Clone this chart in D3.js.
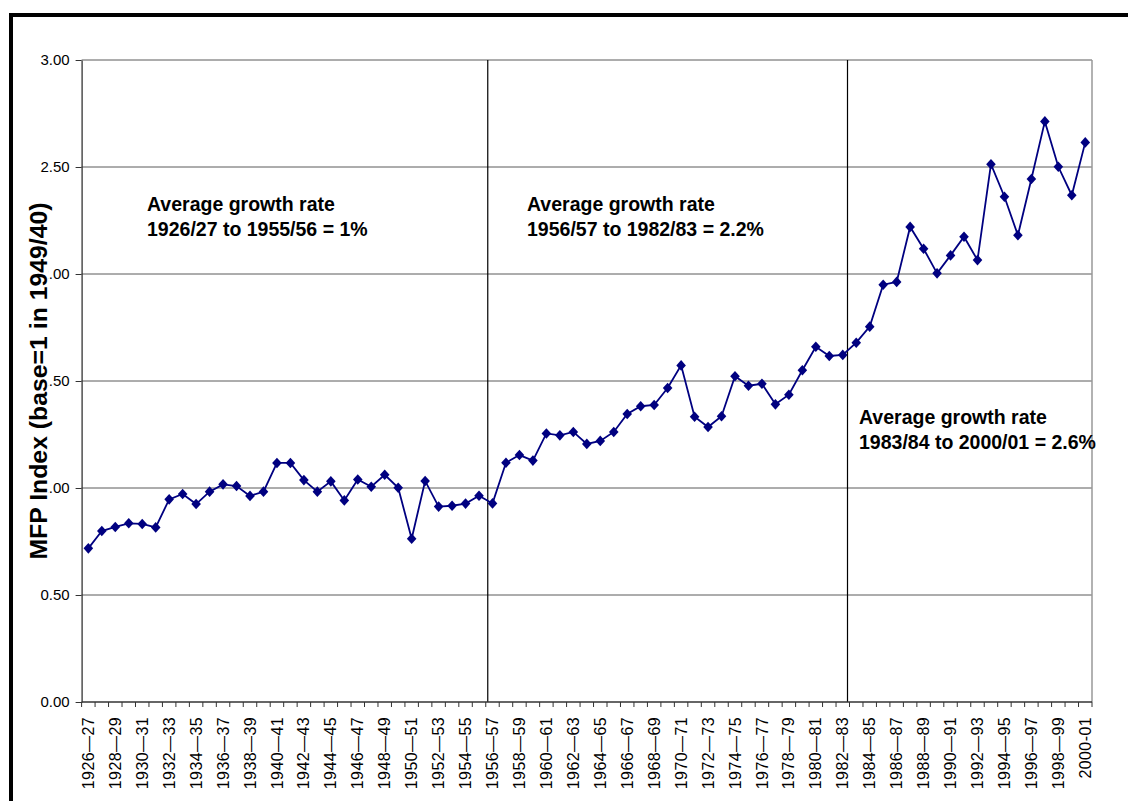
<!DOCTYPE html>
<html>
<head>
<meta charset="utf-8">
<script src="https://cdn.jsdelivr.net/npm/d3@7"></script>
<style>
  html, body { margin: 0; padding: 0; background: #fff; }
  svg { display: block; font-family: "Liberation Sans", Arial, Helvetica, sans-serif; }
</style>
</head>
<body>
<svg id="chart" width="1128" height="801"></svg>
<script>
// Financial years, 1926-27 to 2000-01
const years = [
  "1926-27","1927-28","1928-29","1929-30","1930-31","1931-32","1932-33","1933-34","1934-35","1935-36",
  "1936-37","1937-38","1938-39","1939-40","1940-41","1941-42","1942-43","1943-44","1944-45","1945-46",
  "1946-47","1947-48","1948-49","1949-50","1950-51","1951-52","1952-53","1953-54","1954-55","1955-56",
  "1956-57","1957-58","1958-59","1959-60","1960-61","1961-62","1962-63","1963-64","1964-65","1965-66",
  "1966-67","1967-68","1968-69","1969-70","1970-71","1971-72","1972-73","1973-74","1974-75","1975-76",
  "1976-77","1977-78","1978-79","1979-80","1980-81","1981-82","1982-83","1983-84","1984-85","1985-86",
  "1986-87","1987-88","1988-89","1989-90","1990-91","1991-92","1992-93","1993-94","1994-95","1995-96",
  "1996-97","1997-98","1998-99","1999-00","2000-01"
];

// Multifactor productivity index (base = 1)
const mfp = [
  0.718, 0.799, 0.818, 0.835, 0.832, 0.816, 0.947, 0.972, 0.925, 0.983,
  1.017, 1.009, 0.963, 0.983, 1.117, 1.117, 1.037, 0.983, 1.031, 0.942,
  1.040, 1.006, 1.062, 1.001, 0.763, 1.033, 0.913, 0.917, 0.927, 0.964,
  0.928, 1.118, 1.154, 1.128, 1.255, 1.246, 1.262, 1.206, 1.220, 1.262,
  1.346, 1.382, 1.388, 1.467, 1.573, 1.333, 1.285, 1.335, 1.522, 1.478,
  1.487, 1.391, 1.436, 1.550, 1.660, 1.617, 1.622, 1.679, 1.754, 1.950,
  1.963, 2.220, 2.118, 2.003, 2.087, 2.174, 2.065, 2.513, 2.361, 2.181,
  2.444, 2.713, 2.501, 2.368, 2.615
];

// Every second year is labelled on the category axis
const labelledYears = [
  "1926-27","1928-29","1930-31","1932-33","1934-35","1936-37","1938-39","1940-41","1942-43","1944-45",
  "1946-47","1948-49","1950-51","1952-53","1954-55","1956-57","1958-59","1960-61","1962-63","1964-65",
  "1966-67","1968-69","1970-71","1972-73","1974-75","1976-77","1978-79","1980-81","1982-83","1984-85",
  "1986-87","1988-89","1990-91","1992-93","1994-95","1996-97","1998-99","2000-01"
];
const tickLabels = [
  "1926\u201427","1928\u201429","1930\u201431","1932\u201433","1934\u201435","1936\u201437","1938\u201439","1940\u201441","1942\u201443","1944\u201445",
  "1946\u201447","1948\u201449","1950\u201451","1952\u201453","1954\u201455","1956\u201457","1958\u201459","1960\u201461","1962\u201463","1964\u201465",
  "1966\u201467","1968\u201469","1970\u201471","1972\u201473","1974\u201475","1976\u201477","1978\u201479","1980\u201481","1982\u201483","1984\u201485",
  "1986\u201487","1988\u201489","1990\u201491","1992\u201493","1994\u201495","1996\u201497","1998\u201499","2000-01"
];

const yTicks = [0, 0.5, 1.0, 1.5, 2.0, 2.5, 3.0];

// Growth periods: first year of each later period starts a new segment
const periodStarts = ["1956-57", "1983-84"];
const periodNotes = [
  ["Average growth rate", "1926/27 to 1955/56 = 1%"],
  ["Average growth rate", "1956/57 to 1982/83 = 2.2%"],
  ["Average growth rate", "1983/84 to 2000/01 = 2.6%"]
];

const svg = d3.select("#chart");

// Outer frame
svg.append("rect")
  .attr("x", 11).attr("y", 15)
  .attr("width", 1200).attr("height", 900)
  .attr("fill", "#fff").attr("stroke", "#000").attr("stroke-width", 4);

const plot = { left: 81.6, right: 1092, top: 60, bottom: 702 };

const x = d3.scaleBand().domain(years).range([plot.left, plot.right]).padding(0);
const y = d3.scaleLinear().domain([0, 3]).range([plot.bottom, plot.top]);
const cx = d => x(d) + x.bandwidth() / 2;

// Horizontal gridlines
svg.append("g").selectAll("line")
  .data(yTicks.filter(v => v > 0))
  .join("line")
  .attr("x1", plot.left).attr("x2", plot.right)
  .attr("y1", d => y(d)).attr("y2", d => y(d))
  .attr("stroke", "#5a5a5a").attr("stroke-width", 1);

// Right edge of plot area
svg.append("line")
  .attr("x1", plot.right).attr("x2", plot.right)
  .attr("y1", plot.top).attr("y2", plot.bottom)
  .attr("stroke", "#999").attr("stroke-width", 1.5);

// Period dividers
const dividerShift = [2, -2];
svg.append("g").selectAll("line")
  .data(periodStarts)
  .join("line")
  .attr("x1", (d, i) => x(d) + dividerShift[i])
  .attr("x2", (d, i) => x(d) + dividerShift[i])
  .attr("y1", plot.top).attr("y2", plot.bottom)
  .attr("stroke", "#000").attr("stroke-width", 1.2);

// Y axis
const yAxis = svg.append("g")
  .attr("transform", `translate(${plot.left},0)`)
  .call(d3.axisLeft(y).tickValues(yTicks).tickFormat(d3.format(".2f"))
    .tickSize(6).tickSizeOuter(0).tickPadding(6));
yAxis.select(".domain").attr("stroke", "#333").attr("stroke-width", 1.3);
yAxis.selectAll(".tick line").attr("stroke", "#333");
yAxis.selectAll("text").attr("font-size", 15).attr("fill", "#000")
  .attr("font-family", "'Liberation Sans', Arial, sans-serif");

// X axis: ticks on category boundaries, labels on every second category
const xAxisG = svg.append("g");
xAxisG.append("line")
  .attr("x1", plot.left).attr("x2", plot.right)
  .attr("y1", plot.bottom).attr("y2", plot.bottom)
  .attr("stroke", "#333").attr("stroke-width", 1.3);
xAxisG.selectAll("line.tick")
  .data(years.map(d => x(d)).concat([plot.right]))
  .join("line")
  .attr("class", "tick")
  .attr("x1", d => d).attr("x2", d => d)
  .attr("y1", plot.bottom).attr("y2", plot.bottom + 5)
  .attr("stroke", "#333").attr("stroke-width", 1);
xAxisG.selectAll("text")
  .data(labelledYears)
  .join("text")
  .attr("transform", d => `translate(${cx(d)},${plot.bottom + 15}) rotate(-90)`)
  .attr("text-anchor", "end")
  .attr("dy", "0.35em")
  .attr("font-size", 16)
  .attr("letter-spacing", 0.4)
  .attr("fill", "#000")
  .text((d, i) => tickLabels[i]);

// Series line
const line = d3.line()
  .x((d, i) => cx(years[i]))
  .y(d => y(d));
svg.append("path")
  .datum(mfp)
  .attr("d", line)
  .attr("fill", "none")
  .attr("stroke", "#000080")
  .attr("stroke-width", 1.8);

// Diamond markers
svg.append("g").selectAll("path")
  .data(mfp)
  .join("path")
  .attr("transform", (d, i) => `translate(${cx(years[i])},${y(d)})`)
  .attr("d", "M0,-5.3L4.8,0L0,5.3L-4.8,0Z")
  .attr("fill", "#000080");

// Period annotations
const notePos = [
  { x: 147, y: 211 },
  { x: 527, y: 211 },
  { x: 859, y: 424 }
];
periodNotes.forEach((lines, i) => {
  const t = svg.append("text")
    .attr("x", notePos[i].x).attr("y", notePos[i].y)
    .attr("font-size", 19.5).attr("font-weight", "bold").attr("fill", "#000");
  lines.forEach((s, j) => {
    t.append("tspan").attr("x", notePos[i].x).attr("dy", j === 0 ? 0 : 24.5).text(s);
  });
});

// Y axis title with white backing
const titleG = svg.append("g").attr("transform", "translate(38,381) rotate(-90)");
const bg = titleG.append("rect").attr("fill", "#fff");
const title = titleG.append("text")
  .attr("text-anchor", "middle")
  .attr("dy", "0.35em")
  .attr("font-size", 24.8)
  .attr("font-weight", "bold")
  .attr("fill", "#000")
  .text("MFP Index (base=1 in 1949/40)");
const bb = title.node().getBBox();
bg.attr("x", bb.x).attr("y", bb.y + 3).attr("width", bb.width).attr("height", bb.height - 6);
</script>
</body>
</html>
